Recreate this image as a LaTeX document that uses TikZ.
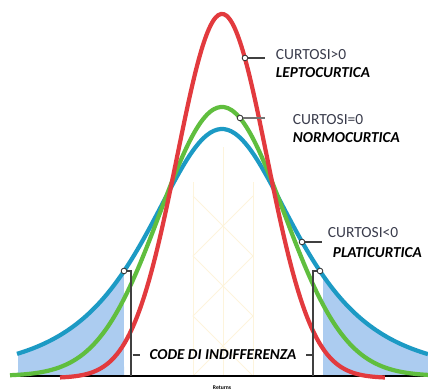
\documentclass[tikz,border=0pt]{standalone}
\usepackage{fontspec}
\setmainfont{Carlito}
\definecolor{curvered}{RGB}{226,58,62}
\definecolor{curvegreen}{RGB}{96,190,62}
\definecolor{curveblue}{RGB}{28,154,196}
\definecolor{tailblue}{RGB}{172,204,240}
\definecolor{textgrey}{RGB}{58,60,76}
\definecolor{lattice}{RGB}{253,244,220}

\begin{document}
\begin{tikzpicture}[x=0.025cm,y=0.025cm,
		curve/.style={line width=3pt,smooth,samples=120},
		dot/.style={circle,draw=black!80,fill=white,inner sep=0pt,minimum size=4pt,line width=0.6pt},
		lead/.style={draw=black!75,line width=0.8pt},
		kurt/.style={anchor=west,text=textgrey,font=\fontsize{11}{13}\selectfont},
		kind/.style={anchor=west,font=\fontsize{10.8}{13}\selectfont\bfseries\itshape}]
		\useasboundingbox (0,0) rectangle (428,392);

		\draw[lattice,line width=0.6pt] (193,16)--(193,210) (223,16)--(223,245) (253,16)--(253,210);
		\draw[lattice,line width=0.6pt] (193,16)--(253,76)--(193,136)--(253,196) (253,16)--(193,76)--(253,136)--(193,196);

		\fill[tailblue] plot[domain=-2.04:-0.98,smooth,samples=40] ({222+100*\x},{16+247/((1+(\x/1.34)^2)^2)}) -- (124,16) -- (18,16) -- cycle;
		\fill[tailblue] plot[domain=1.01:2.06,smooth,samples=40] ({222+100*\x},{16+247/((1+(\x/1.34)^2)^2)}) -- (428,16) -- (323,16) -- cycle;

		\draw[black,line width=1.1pt] (10,16) -- (428,16);

		\draw[curve,curveblue] plot[domain=-2.05:2.06] ({222+100*\x},{16+247/((1+(\x/1.34)^2)^2)});
		\draw[curve,curvegreen] plot[domain=-2.12:2.06] ({222+100*\x},{16+269*exp(-\x*\x/0.7688)});
		\draw[curve,curvered] plot[domain=-1.62:1.63] ({222+100*\x},{14+364*exp(-\x*\x/0.405)});

		\node[dot] at (245,334)(mlep){};
		\node[dot] at (240,274)(mnorm){};
		\node[dot] at (302,150)(mplat){};
		\node[dot] at (124,121)(mleft){};
		\node[dot] at (320,121)(mright){};

		\coordinate (elep) at (265,334);
		\coordinate (enorm) at (265,274);
		\coordinate (eplat) at (322,150);
		\coordinate (kleft) at (131,121);
		\coordinate (bleft) at (131,16);
		\coordinate (kright) at (313,121);
		\coordinate (bright) at (313,16);

		\node[kurt] at (271,337)(gtzero){CURTOSI>0};
		\node[kind] at (271,319)(lepto){LEPTOCURTICA};
		\node[kurt] at (288,272)(eqzero){CURTOSI=0};
		\node[kind] at (288,254)(normo){NORMOCURTICA};
		\node[kurt] at (323,159)(ltzero){CURTOSI<0};
		\node[kind] at (328,139)(plati){PLATICURTICA};
		\node[font=\fontsize{10.8}{13}\selectfont\bfseries\itshape] at (223,37)(code){CODE DI INDIFFERENZA};
		\node[font=\fontsize{4}{5}\selectfont\bfseries] at (222,4)(ret){Returns};

		\path[lead] (mlep) edge (elep) (mnorm) edge[draw=black!55] (enorm) (mplat) edge (eplat);
		\draw[lead] (mleft) -- (kleft) -- (bleft);
		\draw[lead] (mright) -- (kright) -- (bright);
		\draw[lead] (code.west) ++(-12,0) coordinate (tl) -- ++(7,0);
		\draw[lead] (code.east) ++(5,0) coordinate (tr) -- ++(7,0);
	\end{tikzpicture}
\end{document}
